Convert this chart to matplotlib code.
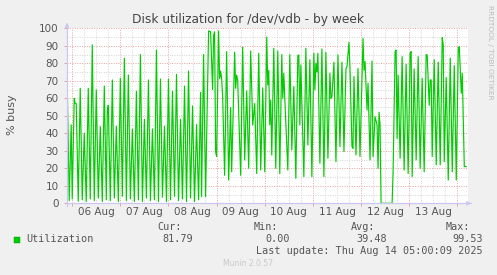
import matplotlib
matplotlib.use("Agg")
import matplotlib.pyplot as plt

# hours since 06 Aug 00:00, disk utilization (% busy)
hours = [
    -2.5, -1.5, -0.5, 0, 1, 1.5, 2, 3,
    4, 5, 6, 7, 8, 9, 10, 11, 12, 13, 14, 15, 16, 17, 17.5, 18, 19, 20, 21, 22, 23,
    24, 25, 26, 27, 28, 29, 30, 31, 32, 33, 34, 35, 36, 37, 38, 39, 40, 41, 42, 43,
    44, 45, 46, 47, 48, 49, 50, 51, 52, 53, 54, 55, 56, 57, 58, 59, 60, 61, 62, 63,
    64, 64.5, 65.5, 66.5, 68, 69, 70, 70.5, 71, 71.5, 72, 73, 73.5, 74, 74.5, 75, 76,
    77, 78, 79, 79.5, 81, 81.5, 82, 82.5, 84, 85, 86, 87, 88, 89, 90, 91, 92, 93, 94,
    95, 96, 97, 97.5, 98, 98.5, 99, 99.5, 100.5, 101.5, 102.5, 103.5, 104.5, 105,
    105.5, 106, 107.5, 108.5, 109.5, 110.5, 111.5, 112.5, 113, 113.5, 114, 115.5,
    116.5, 117.5, 118.5, 119.5, 120.5, 121, 121.5, 122, 122.5, 123.5, 124.5, 125.5,
    126.5, 127.5, 128.5, 129, 129.5, 130.5, 131.5, 132.5, 133.5, 134.5, 135.5, 136.5,
    137, 138, 138.5, 139.5, 140, 140.5, 141.5, 142.5, 143.5, 145, 145.5, 146, 147,
    147.5, 148.5, 149.5, 150, 151, 152, 152.5, 153, 153.5, 154, 159.5, 160, 161,
    161.5, 162, 162.5, 163.5, 164.5, 165.5, 166.5, 167.5, 168.5, 169, 169.5, 170.5,
    171.5, 172.5, 173.5, 174.5, 175.5, 176.5, 177, 178, 178.5, 179, 179.5, 180.5,
    181.5, 182.5, 183.5, 184.5, 185, 185.5, 186.5, 187.5, 188.5, 189.5, 190.5, 191.5,
    192.5, 193, 194, 194.5, 195.5, 196.5,
]
util = [
    69.5, 1.5, 44.8, 2.5, 60, 57, 57, 1.2,
    65.7, 2, 40, 1, 65.7, 2.5, 90.5, 1.5, 64.8, 3, 43.8, 1, 67, 2, 53, 56, 1.5, 70.5, 3, 44, 1,
    71.4, 4, 82.9, 1.5, 73.3, 2.5, 42.5, 1, 64, 2, 85, 1, 48, 3, 70.5, 1.5, 42.5, 2, 87.6, 1,
    71, 3.5, 44, 1, 71, 2, 64, 4, 73.7, 1.5, 48, 2.5, 67, 1, 75.6, 3, 55.6, 1, 45, 2,
    63.4, 3.8, 85, 3.8, 98.5, 98, 65, 96, 98, 29.5, 26.7, 98.5, 71.4, 75.6, 71.4, 61, 16,
    86.7, 13.3, 54.7, 18, 86.3, 65.7, 73.3, 70.5, 16, 89.3, 24.8, 64.2, 20, 87, 44.8, 57, 17, 85.7, 19,
    66, 18, 95, 67.6, 76, 45, 59, 27.6, 88.6, 20, 87, 17, 85, 60,
    74.3, 60, 19, 85, 30.5, 66.7, 14.3, 84.4, 84.8, 44.8, 79, 15.2,
    88.6, 33.3, 82, 15.2, 85.7, 64.8, 80, 75, 85.7, 22.9, 88.2, 15.2,
    86.3, 25.7, 74.3, 60, 61, 80.6, 23.8, 84.8, 32.4, 80.6, 29.5, 77,
    78, 92, 77, 32.4, 31.4, 72.4, 27.6, 77, 26.7, 94.3, 76, 81, 53.3,
    68.6, 24.8, 81.3, 26.7, 49.5, 44.8, 20, 52, 44.8, 0, 0, 18, 86.7,
    87.6, 37, 73.3, 25.7, 83.8, 19, 79.4, 17, 85.7, 86.7, 15.2, 76.8,
    24.8, 83.8, 20, 71.4, 18, 85, 84.8, 56, 70.5, 70.5, 26.7, 82,
    22, 80.6, 22, 94.7, 90.5, 23.8, 71.8, 13.3, 82.9, 18, 78.7, 13.3,
    88.2, 89.5, 62.9, 74.3, 21, 21,
]
day_labels = ["06 Aug", "07 Aug", "08 Aug", "09 Aug", "10 Aug", "11 Aug", "12 Aug", "13 Aug"]
legend_stats = [("Cur:", "81.79"), ("Min:", "0.00"), ("Avg:", "39.48"), ("Max:", "99.53")]

BG = "#F0F0F0"
GREEN = "#00CC00"
MAJOR = "#E8A0A0"
MINOR = "#D4D4D4"
AXIS = "#C8C8F0"
TXT = "#555555"
MONO = "DejaVu Sans Mono"

W, H = 497, 275
fig = plt.figure(figsize=(W / 100, H / 100), dpi=100, facecolor=BG)
ax = fig.add_axes([67 / W, 71.7 / H, 400.7 / W, 175 / H])
ax.set_facecolor("white")
ax.set_xlim(-2.6, 197.2)
ax.set_ylim(0, 100)
for s in ax.spines.values():
    s.set_visible(False)

# grid: minor every 6h / 5%, major every day / 10%
for h in range(0, 198, 6):
    if h % 24:
        ax.axvline(h, color=MINOR, lw=0.7, ls=(0, (1, 1.5)), zorder=1)
for v in range(5, 100, 10):
    ax.axhline(v, color=MINOR, lw=0.7, ls=(0, (1, 1.5)), zorder=1)
for d in range(0, 9):
    ax.axvline(d * 24, color=MAJOR, lw=0.7, ls=(0, (1, 1.5)), zorder=1)
for v in range(10, 101, 10):
    ax.axhline(v, color=MAJOR, lw=0.7, ls=(0, (1, 1.5)), zorder=1)

ax.plot(hours, util, color=GREEN, lw=0.85, zorder=3)

# ticks
ax.set_xticks([d * 24 for d in range(9)])
ax.set_xticklabels([])
ax.tick_params(axis="x", which="major", length=2, color=MAJOR, width=0.7)
ax.set_xticks([12 + 24 * i for i in range(len(day_labels))], minor=True)
ax.set_xticklabels(day_labels, minor=True)
ax.tick_params(axis="x", which="minor", length=0, pad=3, labelsize=7.5, labelcolor=TXT)
ax.set_yticks(range(0, 101, 10))
ax.tick_params(axis="y", length=2, color=MAJOR, width=0.7, pad=4, labelsize=7.5, labelcolor=TXT)

# axis lines with arrows
fig.add_artist(plt.Line2D([67 / W, 471 / W], [71.7 / H, 71.7 / H], color=AXIS, lw=0.9))
fig.add_artist(plt.Line2D([67 / W, 67 / W], [69 / H, 251 / H], color=AXIS, lw=0.9))
ax.annotate("", xy=(474 / W, 71.7 / H), xytext=(466 / W, 71.7 / H), xycoords="figure fraction",
            arrowprops=dict(arrowstyle="-|>", color=AXIS, lw=0.5, mutation_scale=7))
ax.annotate("", xy=(67 / W, 255 / H), xytext=(67 / W, 247 / H), xycoords="figure fraction",
            arrowprops=dict(arrowstyle="-|>", color=AXIS, lw=0.5, mutation_scale=7))

fig.text(248 / W, 1 - 19.5 / H, "Disk utilization for /dev/vdb - by week", ha="center", va="center",
         fontsize=8.8, color="#444444")
fig.text(12 / W, 1 - 115 / H, "% busy", rotation=90, ha="center", va="center", fontsize=8, color=TXT)
fig.text(490 / W, 1 - 5 / H, "RRDTOOL / TOBI OETIKER", rotation=270, ha="center", va="top",
         fontsize=5.3, color="#BBBBBB")

# legend
fig.patches.append(plt.Rectangle((14 / W, 1 - 242.5 / H), 5.5 / W, 5.5 / H, transform=fig.transFigure,
                                 facecolor=GREEN, edgecolor="#009900", lw=0.3))
fig.text(26 / W, 1 - 239.5 / H, "Utilization", ha="left", va="center", fontsize=7.3, color=TXT, family=MONO)
head_x = [182, 278, 375, 470]
val_x = [193, 290, 387, 483]
for (lab, val), hx, vx in zip(legend_stats, head_x, val_x):
    fig.text(hx / W, 1 - 227.5 / H, lab, ha="right", va="center", fontsize=7.3, color=TXT, family=MONO)
    fig.text(vx / W, 1 - 239.5 / H, val, ha="right", va="center", fontsize=7.3, color=TXT, family=MONO)
fig.text(483 / W, 1 - 251.5 / H, "Last update: Thu Aug 14 05:00:09 2025", ha="right", va="center",
         fontsize=7.3, color=TXT, family=MONO)
fig.text(248 / W, 1 - 263.5 / H, "Munin 2.0.57", ha="center", va="center", fontsize=5.5, color="#C8C8C8")

fig.savefig("out.png", dpi=100, facecolor=BG)
